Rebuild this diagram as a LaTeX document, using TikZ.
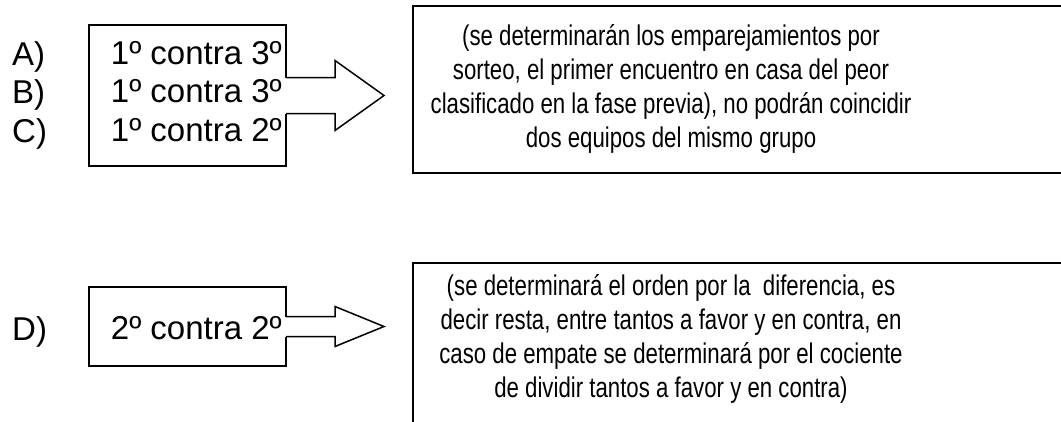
\documentclass[tikz,border=0pt]{standalone}
\usepackage{fontspec}
\setmainfont{Liberation Sans}
\newfontfamily\narrowfont[FakeStretch=0.78]{Liberation Sans}
\usetikzlibrary{positioning}
\tikzset{
    box/.style = {
      draw=black, line width=1.5pt, inner sep=0, outer sep=0,
    },
    pair box/.style = {
      box, minimum width=197pt,
    },
    pair text/.style = {
      inner sep=0, align=right, anchor=east, font=\fontsize{33}{38.5}\selectfont,
    },
    group label/.style = {
      inner sep=0, align=left, anchor=west, font=\fontsize{33}{38.5}\selectfont,
    },
    rule box/.style = {
      box, line width=2pt, minimum width=700pt,
    },
    rule text/.style = {
      inner sep=0, align=center, font=\narrowfont\fontsize{28.5}{34}\selectfont,
    },
    arrow line/.style = {line width=1.5pt, black, line join=miter},
}
\newcommand{\blockarrow}[3]{%
  %% Draw the hollow block arrow leaving a pair box:
  %% Arguments:
  %%    1. Name of the box
  %%    2. Half width of the shaft
  %%    3. Half width of the head
  \fill [white] ([xshift=-1pt, yshift=#2pt] #1.east) rectangle ([xshift=10pt, yshift=-#2pt] #1.east);
  \draw [arrow line] ([yshift=#2pt] #1.east) -- ++(49pt, 0pt) -- ++(0pt, {(#3-#2)*1pt})
    -- ++(49pt, {-#3*1pt}) -- ++(-49pt, {-#3*1pt}) -- ++(0pt, {(#3-#2)*1pt})
    -- ([yshift=-#2pt] #1.east);
}

\begin{document}
\begin{tikzpicture}[x=1pt, y=-1pt]
    \useasboundingbox (0, 0) rectangle (1061, 421);
    \clip (0, 0) rectangle (1061, 421);

    %% First stage: groups A, B and C
    \node [pair box, minimum height=141pt] (abc) at (187.5, 95.5) {};
    \node [pair text] (abc_text) at (282, 91.5) {1º contra 3º\\1º contra 3º\\1º contra 2º};
    \node [group label] (abc_label) at (12, 95) {A)\\B)\\C)};
    \node [rule box, minimum height=167pt, anchor=north west] (abc_rule) at (413, 6) {};
    \node [rule text] (abc_rule_text) at (671, 89)
          {(se determinarán los emparejamientos por\\
           sorteo, el primer encuentro en casa del peor\\
           clasificado en la fase previa), no podrán coincidir\\
           dos equipos del mismo grupo};
    \blockarrow{abc}{18}{35}

    %% Second stage: group D
    \node [pair box, minimum height=79pt] (d) at (187.5, 326.5) {};
    \node [pair text] (d_text) at (282, 328) {2º contra 2º};
    \node [group label] (d_label) at (12, 331.5) {D)};
    \node [rule box, minimum height=250pt, anchor=north west] (d_rule) at (413, 263) {};
    \node [rule text] (d_rule_text) at (671, 338.5)
          {(se determinará el orden por la~ diferencia, es\\
           decir resta, entre tantos a favor y en contra, en\\
           caso de empate se determinará por el cociente\\
           de dividir tantos a favor y en contra)};
    \blockarrow{d}{10}{20}
\end{tikzpicture}
\end{document}
